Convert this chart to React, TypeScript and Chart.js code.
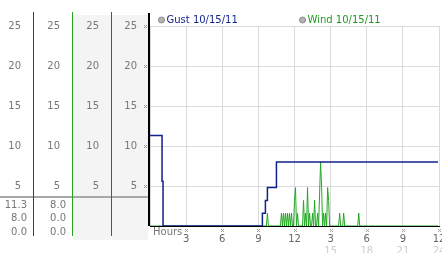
import React, { useEffect, useRef } from 'react';
import { Chart, registerables } from 'chart.js';

Chart.register(...registerables);

const legendLabels = ['Gust 10/15/11', 'Wind 10/15/11'];
const legendTextColors = ['#14248c', '#1f9a1f'];
const seriesColors = ['#10208a', '#22a822'];

// gust: minutes of day -> mph (stepped)
const gustMinutes = [0, 60, 65, 560, 575, 585, 630, 1435];
const gustSpeeds = [11.3, 5.6, 0, 1.6, 3.2, 4.8, 8.0, 8.0];

// wind: minutes of day -> mph
const windMinutes = [
  0, 580, 585, 590, 650, 655, 660, 665, 670, 675, 680, 685, 690, 695, 700, 705, 710,
  715, 720, 725, 730, 735, 740, 760, 765, 770, 775, 780, 785, 790, 795, 800,
  805, 810, 815, 820, 825, 830, 835, 840, 845, 850, 855, 860, 865, 870, 875, 880,
  885, 890, 895, 940, 945, 950, 960, 965, 970, 1035, 1040, 1045, 1435,
];
const windSpeeds = [
  0, 0, 1.6, 0, 0, 1.6, 0, 1.6, 0, 1.6, 0, 1.6, 0, 1.6, 0, 1.6, 0,
  0, 3.2, 4.8, 0, 1.6, 0, 0, 3.2, 0, 1.6, 0, 4.8, 0, 1.6, 0,
  0, 1.6, 0, 3.2, 0, 0, 1.6, 0, 4.0, 8.0, 4.8, 0, 1.6, 0, 1.6, 0,
  4.8, 3.2, 0, 0, 1.6, 0, 0, 1.6, 0, 0, 1.6, 0, 0,
];

const xTickLabels = ['', '3', '6', '9', '12', '3', '6', '9', '12'];
const x2TickLabels = ['', '', '', '', '', '15', '18', '21', '24'];
const yTickLabels = ['', '5', '10', '15', '20', '25'];
const xAxisTitle = 'Hours';

const gustSummary = [11.3, 8.0, 0.0];
const windSummary = [8.0, 0.0, 0.0];

const FONT = 'DejaVu Sans';

const panelPlugin = {
  id: 'panel',
  beforeDraw(chart: any) {
    const ctx = chart.ctx;
    const ca = chart.chartArea;
    ctx.save();
    ctx.fillStyle = '#f4f4f4';
    const s1 = chart.scales.y1;
    const s0 = chart.scales.y;
    ctx.fillRect(s1.left, ca.top - 11, s1.right - s1.left - 1, ca.bottom - ca.top + 25);
    ctx.fillRect(s0.left, ca.top - 11, s0.right - s0.left - 2, ca.bottom - ca.top + 25);
    ctx.restore();
  },
  afterDraw(chart: any) {
    const ctx = chart.ctx;
    const ca = chart.chartArea;
    const sc = chart.scales;
    ctx.save();
    // separator of summary table
    ctx.fillStyle = '#a8a8a8';
    ctx.fillRect(0, ca.bottom - 30, ca.left - 2, 2);
    // column lines
    const cols: [string, string][] = [['y3', '#1a3caa'], ['y2', '#22a622'], ['y1', '#c02626']];
    for (const [id, col] of cols) {
      const s = sc[id];
      ctx.fillStyle = col;
      ctx.fillRect(s.right - 1, ca.top - 14, 1, ca.bottom - ca.top + 24);
    }
    ctx.fillStyle = '#000';
    ctx.fillRect(ca.left - 2, ca.top - 13, 2, ca.bottom - ca.top + 13);
    // summary table
    ctx.font = `10px "${FONT}"`;
    ctx.fillStyle = '#777';
    ctx.textAlign = 'right';
    ctx.textBaseline = 'middle';
    const tables: [string, number[]][] = [['y3', gustSummary], ['y2', windSummary]];
    for (const [id, vals] of tables) {
      const s = sc[id];
      vals.forEach((v, r) => {
        ctx.fillText(v.toFixed(1), s.right - 7, ca.bottom - 21 + r * 13.5);
      });
    }
    // tick marks
    ctx.strokeStyle = '#a0a0a0';
    ctx.lineWidth = 1;
    const mark = (x: number, y: number) => {
      ctx.beginPath();
      ctx.moveTo(x - 1.5, y - 1.5);
      ctx.lineTo(x + 1.5, y + 1.5);
      ctx.moveTo(x + 1.5, y - 1.5);
      ctx.lineTo(x - 1.5, y + 1.5);
      ctx.stroke();
    };
    sc.y.ticks.forEach((t: any) => {
      if (t.value > 0) mark(sc.y.right - 4.5, Math.round(sc.y.getPixelForValue(t.value)) + 0.5);
    });
    sc.x.ticks.forEach((t: any) => {
      if (t.value > 0) mark(Math.round(sc.x.getPixelForValue(t.value)) + 0.5, ca.bottom + 4.5);
    });
    // x title
    ctx.textAlign = 'left';
    ctx.fillStyle = '#777';
    ctx.fillText(xAxisTitle, ca.left + 3, ca.bottom + 6);
    // legend
    legendLabels.forEach((lab, i) => {
      const cx = ca.left + 11.5 + i * 141;
      const cy = 20;
      ctx.beginPath();
      ctx.arc(cx, cy, 3, 0, Math.PI * 2);
      ctx.fillStyle = '#b4b4b4';
      ctx.fill();
      ctx.strokeStyle = '#888';
      ctx.stroke();
      ctx.fillStyle = legendTextColors[i];
      ctx.fillText(lab, cx + 5, cy + 0.5);
    });
    ctx.restore();
  },
};

const leftAxis = (weight: number, width: number) => ({
  type: 'linear',
  position: 'left',
  min: 0,
  max: 25,
  weight,
  ticks: {
    stepSize: 5,
    padding: 13,
    color: '#777',
    font: { family: FONT, size: 10 },
    callback: (_v: any, i: number) => yTickLabels[i] ?? '',
  },
  grid: { display: weight === 0, color: '#dadada', drawTicks: false, lineWidth: 1 },
  border: { display: false },
  afterFit: (s: any) => {
    s.width = width;
    s.paddingTop = 0;
    s.paddingBottom = 0;
  },
});

export default function App() {
  const ref = useRef<HTMLCanvasElement | null>(null);
  useEffect(() => {
    if (!ref.current) return;
    const chart = new Chart(ref.current, {
      type: 'line',
      data: {
        datasets: [
          {
            label: legendLabels[0],
            data: gustMinutes.map((m, i) => ({ x: m / 60, y: gustSpeeds[i] })),
            borderColor: seriesColors[0],
            borderWidth: 1.5,
            stepped: 'before',
            pointRadius: 0,
            xAxisID: 'x',
            yAxisID: 'y',
          },
          {
            label: legendLabels[1],
            data: windMinutes.map((m, i) => ({ x: m / 60, y: windSpeeds[i] })),
            borderColor: seriesColors[1],
            borderWidth: 1,
            pointRadius: 0,
            tension: 0,
            xAxisID: 'x',
            yAxisID: 'y',
          },
        ],
      },
      options: {
        responsive: false,
        animation: false,
        devicePixelRatio: 1,
        layout: { padding: { top: 26, right: 3, left: 0, bottom: 0 } },
        plugins: { legend: { display: false }, tooltip: { enabled: false } },
        scales: {
          x: {
            type: 'linear',
            position: 'bottom',
            min: 0,
            max: 24,
            weight: 0,
            ticks: {
              stepSize: 3,
              autoSkip: false,
              maxRotation: 0,
              padding: 7,
              color: '#666',
              font: { family: FONT, size: 10 },
              callback: (_v: any, i: number) => xTickLabels[i] ?? '',
            },
            grid: { color: '#dadada', drawTicks: false, lineWidth: 1 },
            border: { display: true, color: '#000', width: 1 },
            afterFit: (s: any) => {
              s.height = 19;
              s.paddingLeft = 0;
              s.paddingRight = 0;
            },
          },
          x2: {
            type: 'linear',
            position: 'bottom',
            min: 0,
            max: 24,
            weight: 1,
            ticks: {
              stepSize: 3,
              autoSkip: false,
              maxRotation: 0,
              padding: 0,
              color: '#cccccc',
              font: { family: FONT, size: 10 },
              callback: (_v: any, i: number) => x2TickLabels[i] ?? '',
            },
            grid: { display: false, drawTicks: false },
            border: { display: false },
            afterFit: (s: any) => {
              s.height = 8;
              s.paddingLeft = 0;
              s.paddingRight = 0;
            },
          },
          y: leftAxis(0, 38),
          y1: leftAxis(1, 39),
          y2: leftAxis(2, 39),
          y3: leftAxis(3, 34),
        } as any,
      },
      plugins: [panelPlugin],
    } as any);
    return () => chart.destroy();
  }, []);
  return (
    <div style={{ position: 'absolute', left: 0, top: 0, width: 442, height: 253, background: '#fff' }}>
      <canvas ref={ref} width={442} height={253} style={{ display: 'block' }} />
    </div>
  );
}
